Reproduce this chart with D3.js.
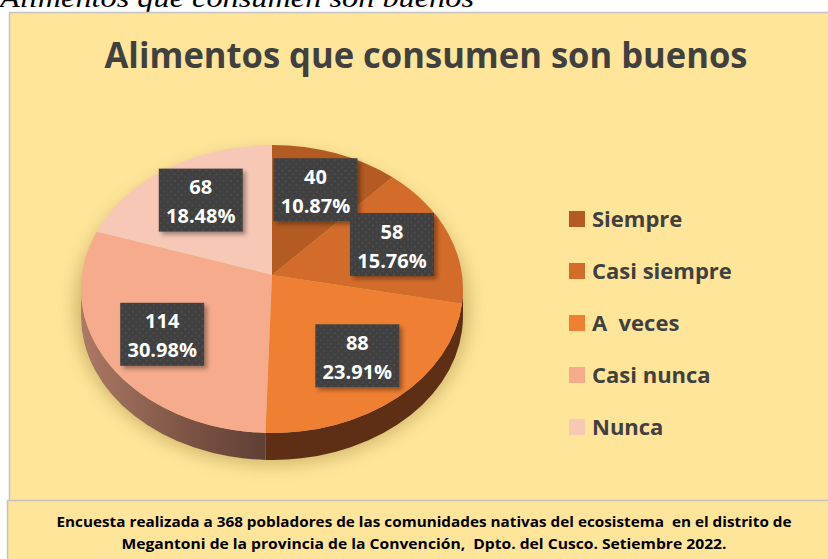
<!DOCTYPE html>
<html>
<head>
<meta charset="utf-8">
<script src="https://cdn.jsdelivr.net/npm/d3@7"></script>
<style>
  html, body { margin: 0; padding: 0; background: #fff; }
  svg { display: block; }
  text { white-space: pre; }
</style>
</head>
<body>
<div id="chart"></div>
<script>
// data
var categories = ["Siempre", "Casi siempre", "A  veces", "Casi nunca", "Nunca"];
var values = [40, 58, 88, 114, 68];
var topColors = ["#b35b22", "#d36b2b", "#ef7f32", "#f5ab8c", "#f7c8b6"];
var sideColors = ["#5e2d13", "#5e2d13", "#5e2e15", "url(#sideGrad)", "#a97764"];
var chartTitle = "Alimentos que consumen son buenos";
var footLines = [
  "Encuesta realizada a 368 pobladores de las comunidades nativas del ecosistema  en el distrito de",
  "Megantoni de la provincia de la Convención,  Dpto. del Cusco. Setiembre 2022."
];

var W = 828, H = 559;
var total = d3.sum(values);

var svg = d3.select("#chart").append("svg")
    .attr("width", W)
    .attr("height", H);

var defs = svg.append("defs");

// dotted texture in label boxes
var pat = defs.append("pattern")
    .attr("id", "dots")
    .attr("width", 7).attr("height", 7)
    .attr("patternUnits", "userSpaceOnUse");
pat.append("rect").attr("width", 7).attr("height", 7).attr("fill", "#404040");
pat.append("circle").attr("cx", 2).attr("cy", 2).attr("r", 1).attr("fill", "#4f4f4f");
pat.append("circle").attr("cx", 5.5).attr("cy", 5.5).attr("r", 1).attr("fill", "#4f4f4f");

var blur = defs.append("filter").attr("id", "blur")
    .attr("x", "-20%").attr("y", "-20%").attr("width", "140%").attr("height", "140%");
blur.append("feGaussianBlur").attr("stdDeviation", 9);

var bshadow = defs.append("filter").attr("id", "boxShadow")
    .attr("x", "-20%").attr("y", "-20%").attr("width", "150%").attr("height", "150%");
bshadow.append("feDropShadow")
    .attr("dx", 3).attr("dy", 3).attr("stdDeviation", 2)
    .attr("flood-color", "#000").attr("flood-opacity", 0.35);

var sg = defs.append("linearGradient").attr("id", "sideGrad")
    .attr("gradientUnits", "userSpaceOnUse")
    .attr("x1", 80).attr("y1", 0).attr("x2", 272).attr("y2", 0);
sg.append("stop").attr("offset", "0%").attr("stop-color", "#ad7a66");
sg.append("stop").attr("offset", "55%").attr("stop-color", "#7d5445");
sg.append("stop").attr("offset", "100%").attr("stop-color", "#5d3d34");

// italic caption cut at the top of the page
svg.append("text")
    .attr("x", 0).attr("y", 7)
    .attr("font-family", "Liberation Serif, serif")
    .attr("font-style", "italic")
    .attr("font-size", 28)
    .attr("textLength", 474)
    .attr("lengthAdjust", "spacingAndGlyphs")
    .attr("fill", "#000")
    .text(chartTitle);

// chart frame
svg.append("rect")
    .attr("x", 9.5).attr("y", 12.5)
    .attr("width", W + 10).attr("height", 520)
    .attr("fill", "#ffe599")
    .attr("stroke", "#c4c4c4").attr("stroke-width", 1.5);

svg.append("text")
    .attr("x", 426).attr("y", 68)
    .attr("text-anchor", "middle")
    .attr("font-family", "Open Sans, sans-serif")
    .attr("font-weight", "bold")
    .attr("font-size", 36)
    .attr("textLength", 643)
    .attr("lengthAdjust", "spacingAndGlyphs")
    .attr("fill", "#404040")
    .text(chartTitle);

// pie geometry (tilted ellipse)
var cx = 272, cy = 289, rx = 191, ry = 144, apexY = 275, depth = 27;

function pt(a, dy) {
  return [cx + rx * Math.sin(a), cy - ry * Math.cos(a) + (dy || 0)];
}

var pie = d3.pie().sort(null).value(function (d) { return d; });
var arcs = pie(values);

// soft shadow under the pie
svg.append("ellipse")
    .attr("cx", cx).attr("cy", cy + depth / 2 + 6)
    .attr("rx", rx + 6).attr("ry", ry + 12)
    .attr("fill", "#a88f45").attr("opacity", 0.55)
    .attr("filter", "url(#blur)");

// sides of the lower half
var sides = svg.append("g");
arcs.forEach(function (d, i) {
  var a0 = Math.max(d.startAngle, Math.PI / 2);
  var a1 = Math.min(d.endAngle, Math.PI * 1.5);
  if (a1 <= a0) return;
  var p0 = pt(a0), p1 = pt(a1), q1 = pt(a1, depth), q0 = pt(a0, depth);
  var large = (a1 - a0) > Math.PI ? 1 : 0;
  var p = d3.path();
  p.moveTo(p0[0], p0[1]);
  var s = p.toString() +
      "A" + rx + "," + ry + " 0 " + large + " 1 " + p1[0] + "," + p1[1] +
      "L" + q1[0] + "," + q1[1] +
      "A" + rx + "," + ry + " 0 " + large + " 0 " + q0[0] + "," + q0[1] + "Z";
  sides.append("path").attr("d", s).attr("fill", sideColors[i]);
});

// top faces
var faces = svg.append("g");
faces.selectAll("path")
    .data(arcs)
    .enter().append("path")
    .attr("d", function (d) {
      var p0 = pt(d.startAngle), p1 = pt(d.endAngle);
      var large = (d.endAngle - d.startAngle) > Math.PI ? 1 : 0;
      return "M" + cx + "," + apexY + "L" + p0[0] + "," + p0[1] +
          "A" + rx + "," + ry + " 0 " + large + " 1 " + p1[0] + "," + p1[1] + "Z";
    })
    .attr("fill", function (d, i) { return topColors[i]; });

// data labels
var bw = 84, bh = 63, lf = 0.68;
var labels = svg.append("g").selectAll("g")
    .data(arcs)
    .enter().append("g")
    .attr("transform", function (d) {
      var m = (d.startAngle + d.endAngle) / 2;
      var x = cx + rx * lf * Math.sin(m);
      var y = (cy - 7) - ry * lf * Math.cos(m);
      return "translate(" + x + "," + y + ")";
    });

labels.append("rect")
    .attr("x", -bw / 2).attr("y", -bh / 2)
    .attr("width", bw).attr("height", bh)
    .attr("fill", "url(#dots)")
    .attr("filter", "url(#boxShadow)");

labels.append("text")
    .attr("text-anchor", "middle")
    .attr("y", -6)
    .attr("font-family", "Open Sans, sans-serif")
    .attr("font-weight", "bold")
    .attr("font-size", 20)
    .attr("fill", "#fff")
    .text(function (d) { return d.value; });

labels.append("text")
    .attr("text-anchor", "middle")
    .attr("y", 23)
    .attr("font-family", "Open Sans, sans-serif")
    .attr("font-weight", "bold")
    .attr("font-size", 20)
    .attr("fill", "#fff")
    .text(function (d) { return (d.value / total * 100).toFixed(2) + "%"; });

// legend
var ly = d3.scalePoint().domain(categories).range([227, 435]);
var legend = svg.append("g").selectAll("g")
    .data(categories)
    .enter().append("g")
    .attr("transform", function (d) { return "translate(569," + ly(d) + ")"; });

legend.append("rect")
    .attr("x", 0).attr("y", -16)
    .attr("width", 16).attr("height", 16)
    .attr("fill", function (d, i) { return topColors[i]; });

legend.append("text")
    .attr("x", 23).attr("y", 0)
    .attr("font-family", "Open Sans, sans-serif")
    .attr("font-weight", "bold")
    .attr("font-size", 22)
    .attr("fill", "#404040")
    .text(function (d) { return d; });

// footnote box
svg.append("rect")
    .attr("x", 7.5).attr("y", 500.5)
    .attr("width", W + 10).attr("height", 80)
    .attr("fill", "#ffe599")
    .attr("stroke", "#c4c4c4").attr("stroke-width", 1.5);

var footLen = [735, 605];
svg.selectAll(".foot")
    .data(footLines)
    .enter().append("text")
    .attr("class", "foot")
    .attr("x", 424)
    .attr("y", function (d, i) { return 527 + i * 22; })
    .attr("text-anchor", "middle")
    .attr("font-family", "Open Sans, sans-serif")
    .attr("font-weight", "bold")
    .attr("font-size", 14)
    .attr("textLength", function (d, i) { return footLen[i]; })
    .attr("lengthAdjust", "spacingAndGlyphs")
    .attr("fill", "#000")
    .text(function (d) { return d; });
</script>
</body>
</html>
